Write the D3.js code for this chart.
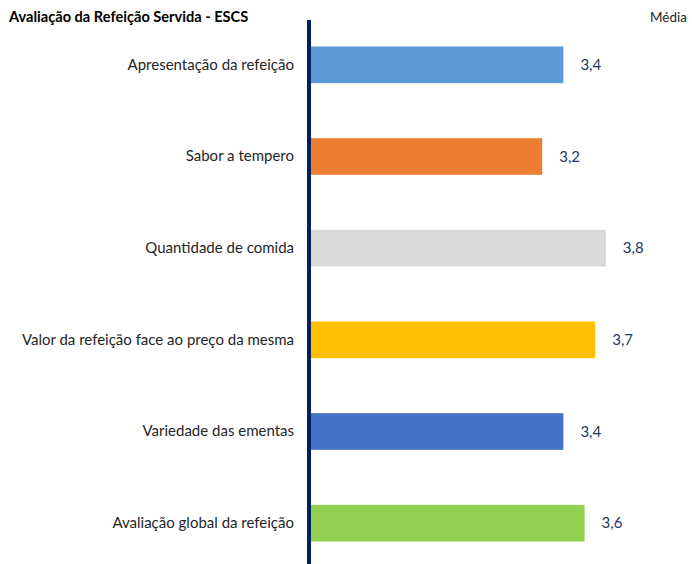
<!DOCTYPE html>
<html>
<head>
<meta charset="utf-8">
<script src="https://cdn.jsdelivr.net/npm/d3@7"></script>
<style>
  html, body { margin: 0; padding: 0; background: #fff; }
  svg { display: block; font-family: Lato, "Liberation Sans", Arial, sans-serif; }
</style>
</head>
<body>
<svg id="chart" width="692" height="564"></svg>
<script>
// Categories, mean scores and bar colours
const categories = [
  "Apresentação da refeição",
  "Sabor a tempero",
  "Quantidade de comida",
  "Valor da refeição face ao preço da mesma",
  "Variedade das ementas",
  "Avaliação global da refeição"
];
const values = [3.4, 3.2, 3.8, 3.7, 3.4, 3.6];
const colors = ["#5B9BD5", "#ED7D31", "#D9D9D9", "#FFC000", "#4472C4", "#92D050"];
const titleText = "Avaliação da Refeição Servida - ESCS";
const legendText = "Média";

const svg = d3.select("#chart");
const W = 692, H = 564;
const FONT = "Lato, 'Liberation Sans', Arial, sans-serif";

const x = d3.scaleLinear().domain([1, 5]).range([309, 733]);
const y = d3.scaleBand().domain(categories).range([19, 569]).paddingInner(0.6).paddingOuter(0.3);

const fmt = v => d3.format(".1f")(v).replace(".", ",");

// Bars
svg.append("g").selectAll("rect")
  .data(categories)
  .join("rect")
  .attr("x", x(1))
  .attr("y", d => y(d))
  .attr("width", (d, i) => x(values[i]) - x(1))
  .attr("height", y.bandwidth())
  .attr("fill", (d, i) => colors[i]);

// Category axis on the left
const yAxis = d3.axisLeft(y).tickSize(0).tickPadding(15);
const gy = svg.append("g").attr("transform", `translate(${x(1)},0)`).call(yAxis);
gy.select(".domain").remove();
gy.selectAll("text")
  .attr("font-size", 15)
  .attr("font-family", FONT)
  .attr("fill", "#262626");

// Vertical axis line
svg.append("line")
  .attr("x1", x(1)).attr("x2", x(1))
  .attr("y1", 20).attr("y2", H)
  .attr("stroke", "#002060")
  .attr("stroke-width", 4);

// Value labels
svg.append("g").selectAll("text")
  .data(categories)
  .join("text")
  .attr("x", (d, i) => x(values[i]) + 17)
  .attr("y", d => y(d) + y.bandwidth() / 2)
  .attr("dy", "0.35em")
  .attr("font-size", 15)
  .attr("fill", "#203864")
  .text((d, i) => fmt(values[i]));

// Title
svg.append("text")
  .attr("x", 9).attr("y", 22)
  .attr("font-size", 14.6)
  .attr("font-weight", "bold")
  .attr("fill", "#000")
  .text(titleText);

// Series name
svg.append("text")
  .attr("x", 687).attr("y", 22)
  .attr("text-anchor", "end")
  .attr("font-size", 13.5)
  .attr("fill", "#262626")
  .text(legendText);
</script>
</body>
</html>
